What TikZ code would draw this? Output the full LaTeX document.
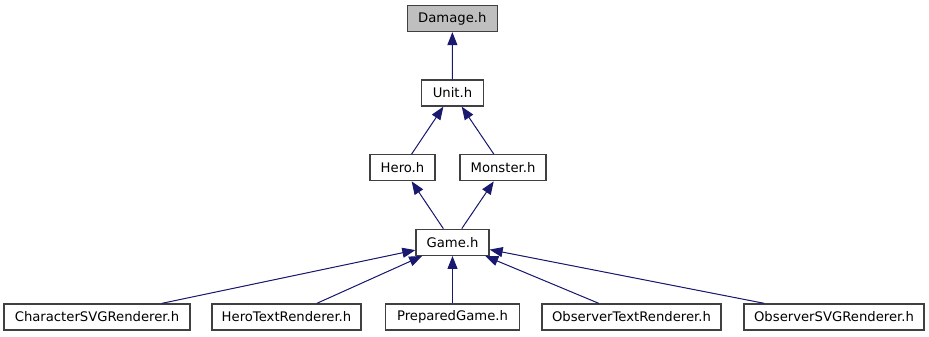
\documentclass[tikz,border=0pt]{standalone}
\usepackage{fontspec}
\setmainfont{DejaVu Sans}
\usetikzlibrary{arrows.meta}
\definecolor{midnight}{HTML}{191970}
\definecolor{boxline}{HTML}{404040}
\definecolor{boxgrey}{HTML}{BFBFBF}
\begin{document}
\begin{tikzpicture}[x=0.75pt,y=-0.75pt]
\tikzstyle{every node}=[font=\fontsize{9.9}{11}\selectfont]
\tikzstyle{hdr}=[draw=boxline, line width=1pt, fill=white, minimum height=19.5pt, inner sep=0pt]
\tikzstyle{dep}=[draw=midnight, line width=0.75pt, -{Triangle[length=9.75pt,width=7.5pt]}, fill=midnight]
	\useasboundingbox (0,0) rectangle (929,336);
	\node[hdr, fill=boxgrey, minimum width=67.5pt] (damage) at (452.3,18.5) {Damage.h};
	\node[hdr, minimum width=46.5pt] (unit) at (452.5,93) {Unit.h};
	\node[hdr, minimum width=48.75pt] (hero) at (402.5,167.7) {Hero.h};
	\node[hdr, minimum width=64.5pt] (monster) at (503,167.7) {Monster.h};
	\node[hdr, minimum width=54.75pt] (game) at (452.5,242.3) {Game.h};
	\node[hdr, minimum width=139.5pt] (charsvg) at (97,317) {CharacterSVGRenderer.h};
	\node[hdr, minimum width=111.75pt] (herotext) at (286.5,317) {HeroTextRenderer.h};
	\node[hdr, minimum width=100.5pt] (prepared) at (452.5,317) {PreparedGame.h};
	\node[hdr, minimum width=134.25pt] (obstext) at (631.5,317) {ObserverTextRenderer.h};
	\node[hdr, minimum width=135pt] (obssvg) at (834,317) {ObserverSVGRenderer.h};
	\draw[dep] (unit) -- (damage);
	\draw[dep] (hero) -- (unit);
	\draw[dep] (monster) -- (unit);
	\draw[dep] (game) -- (hero);
	\draw[dep] (game) -- (monster);
	\draw[dep] (charsvg) -- (game);
	\draw[dep] (herotext) -- (game);
	\draw[dep] (prepared) -- (game);
	\draw[dep] (obstext) -- (game);
	\draw[dep] (obssvg) -- (game);
\end{tikzpicture}
\end{document}
